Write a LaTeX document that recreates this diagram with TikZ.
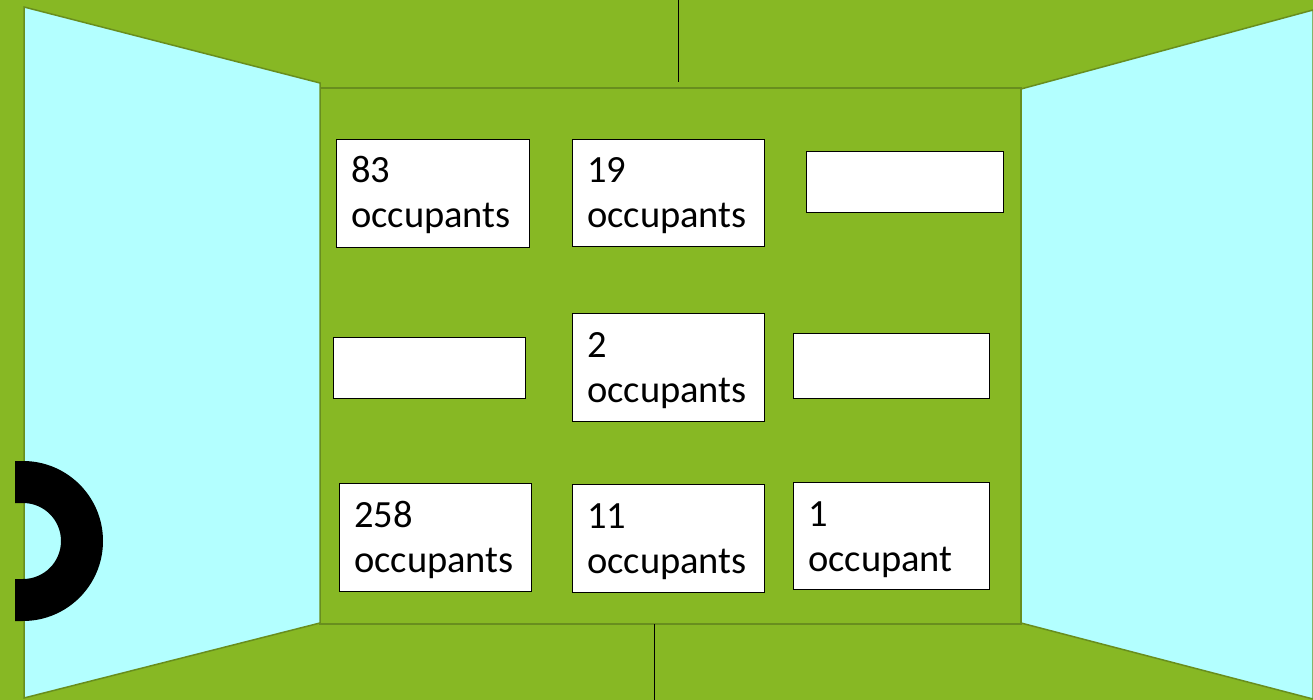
\documentclass[tikz,border=0pt]{standalone}
\usepackage{fontspec}
\setmainfont{Carlito}
\definecolor{grass}{RGB}{135,184,36}
\definecolor{grassdark}{RGB}{104,142,30}
\definecolor{glass}{RGB}{179,255,255}
\tikzset{
  roombox/.style={draw=black, fill=white, line width=1.1pt, anchor=north west, inner sep=0pt},
  roomtxt/.style={anchor=base west, inner sep=0pt, align=left, font=\fontsize{38.5}{45}\selectfont},
}
\begin{document}
\begin{tikzpicture}[x=1pt, y=-1pt]
    \useasboundingbox (0,0) rectangle (1313,700);
    \clip (0,0) rectangle (1313,700);

    % Draw the green floor
    \fill[grass] (0,0) rectangle (1313,700);

    % Draw the middle room
    \draw[grassdark, fill=grass, line width=1.5pt] (320,88) rectangle (1021,624);

    % Draw the two open doors
    \draw[grassdark, fill=glass, line width=1.5pt] (24,7) -- (320,83) -- (320,623) -- (24,698) -- cycle;
    \draw[grassdark, fill=glass, line width=1.5pt] (1021,89) -- (1313,10) -- (1313,699) -- (1021,623) -- cycle;

    % Draw the handle on the left door
    \fill[black] (15,461) -- (23,461) arc[start angle=-90, end angle=90, radius=80]
        -- (15,621) -- (15,579) -- (23,579) arc[start angle=90, end angle=-90, radius=38]
        -- (15,503) -- cycle;

    % Draw the seams top and bottom
    \draw[black, line width=1pt] (678,0) -- (678,82);
    \draw[black, line width=1pt] (654,624) -- (654,700);

    % Draw the boxes with their occupants (text sits on its last baseline)
    \foreach \n/\x/\y/\w/\h/\t in {1/336/139/193/108/{83\\occupants},
                                  2/572/139/192/107/{19\\occupants},
                                  3/806/151/197/61/{},
                                  4/333/337/192/61/{},
                                  5/572/313/192/108/{2\\occupants},
                                  6/793/333/196/65/{},
                                  7/339/483/192/108/{258\\occupants},
                                  8/572/484/192/108/{11\\occupants},
                                  9/793/482/196/107/{1\\occupant}} {
        \node[roombox, minimum width=\w pt, minimum height=\h pt] (box\n) at (\x,\y) {};
        \node[roomtxt] (txt\n) at (\x+15,\y+89) {\t};
    }
\end{tikzpicture}
\end{document}
